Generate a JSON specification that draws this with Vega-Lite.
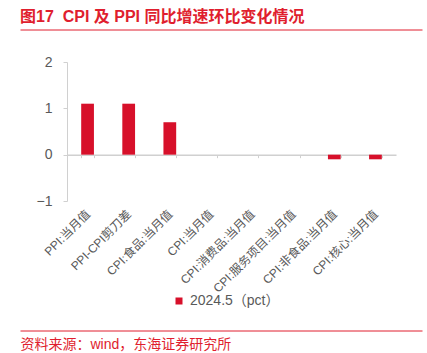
{
  "$schema": "https://vega.github.io/schema/vega-lite/v6.json",
  "autosize": "none",
  "width": 329,
  "height": 139,
  "padding": {"left": 67, "top": 62, "right": 31, "bottom": 152},
  "background": "white",
  "config": {
    "font": "Liberation Sans, Noto Sans CJK SC",
    "view": {"stroke": null}
  },
  "title": {
    "text": "图17\u00a0\u00a0CPI 及 PPI 同比增速环比变化情况",
    "anchor": "start",
    "frame": "group",
    "dx": -47,
    "offset": 5,
    "fontSize": 16,
    "fontWeight": "bold",
    "color": "#E01E2E",
    "font": "Liberation Sans, Noto Sans CJK SC"
  },
  "data": {
    "values": [
      {"item": "PPI:当月值", "value": 1.1, "series": "2024.5（pct）"},
      {"item": "PPI-CPI剪刀差", "value": 1.1, "series": "2024.5（pct）"},
      {"item": "CPI:食品:当月值", "value": 0.7, "series": "2024.5（pct）"},
      {"item": "CPI:当月值", "value": 0, "series": "2024.5（pct）"},
      {"item": "CPI:消费品:当月值", "value": 0, "series": "2024.5（pct）"},
      {"item": "CPI:服务项目:当月值", "value": 0, "series": "2024.5（pct）"},
      {"item": "CPI:非食品:当月值", "value": -0.1, "series": "2024.5（pct）"},
      {"item": "CPI:核心:当月值", "value": -0.1, "series": "2024.5（pct）"}
    ]
  },
  "resolve": {"scale": {"x": "independent"}, "axis": {"x": "independent"}},
  "layer": [
    {
      "mark": {"type": "bar"},
      "encoding": {
        "x": {
          "field": "item",
          "type": "nominal",
          "sort": null,
          "scale": {"paddingInner": 0.69, "paddingOuter": 0.345},
          "axis": {
            "orient": "bottom",
            "offset": -46.33,
            "labelAngle": -45,
            "labelAlign": "right",
            "labelBaseline": "middle",
            "labelPadding": 54,
            "labelFontSize": 12,
            "labelColor": "#595959",
            "domainColor": "#D0D0D0",
            "domainWidth": 1.5,
            "tickColor": "#D0D0D0",
            "tickSize": 3,
            "tickBand": "extent",
            "title": "资料来源：wind，东海证券研究所",
            "titleX": -47,
            "titleY": 190,
            "titleAlign": "left",
            "titleAnchor": null,
            "titleBaseline": "middle",
            "titleFontSize": 14,
            "titleFontWeight": "normal",
            "titleColor": "#E01E2E"
          }
        },
        "y": {
          "field": "value",
          "type": "quantitative",
          "scale": {"domain": [-1, 2], "nice": false, "zero": false},
          "axis": {
            "values": [-1, 0, 1, 2],
            "grid": false,
            "title": null,
            "labelFontSize": 14,
            "labelColor": "#595959",
            "labelPadding": 11,
            "domainColor": "#D0D0D0",
            "tickColor": "#D0D0D0",
            "tickSize": 4
          }
        },
        "color": {
          "field": "series",
          "type": "nominal",
          "scale": {"range": ["#D7102A"]},
          "legend": {
            "title": null,
            "orient": "none",
            "legendX": 105,
            "legendY": 232,
            "symbolType": "square",
            "symbolSize": 49,
            "labelFontSize": 14,
            "labelColor": "#595959",
            "padding": 0
          }
        }
      }
    },
    {
      "mark": {"type": "rule", "opacity": 0},
      "encoding": {
        "x": {
          "field": "value",
          "type": "quantitative",
          "scale": {"domain": [-2, 2], "range": [-47, 355], "nice": false, "zero": false},
          "axis": {
            "orient": "top",
            "offset": 32.5,
            "labels": false,
            "ticks": false,
            "grid": false,
            "title": null,
            "domainColor": "#E01E2E",
            "domainWidth": 1
          }
        }
      }
    },
    {
      "mark": {"type": "rule", "opacity": 0},
      "encoding": {
        "x": {
          "field": "value",
          "type": "quantitative",
          "scale": {"domain": [-2, 2], "range": [-47, 355], "nice": false, "zero": false},
          "axis": {
            "orient": "bottom",
            "offset": 129.5,
            "labels": false,
            "ticks": false,
            "grid": false,
            "title": null,
            "domainColor": "#E01E2E",
            "domainWidth": 1
          }
        }
      }
    }
  ]
}
